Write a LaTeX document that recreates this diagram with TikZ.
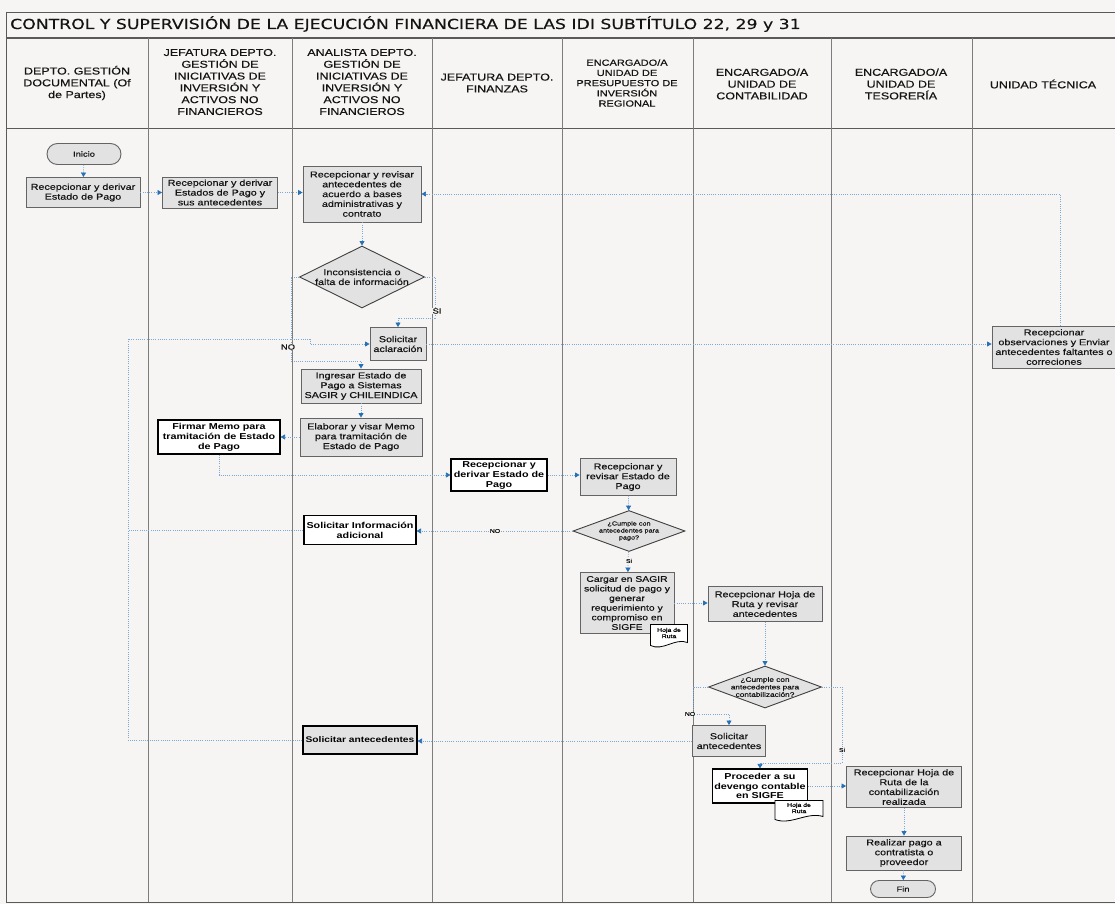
\documentclass[tikz,border=0pt]{standalone}
\usepackage{fontspec}
\setmainfont{Liberation Sans}[FakeStretch=1.25]
\newfontfamily\medium{Liberation Sans}[FakeStretch=1.25, FakeBold=0.45]
\newfontfamily\titlefont{DejaVu Sans}[FakeStretch=1.25, FakeBold=0.3]
\usetikzlibrary{arrows.meta,shapes.geometric,shapes.misc}

\definecolor{paper}{RGB}{246,245,243}
\definecolor{frameline}{RGB}{90,90,90}
\definecolor{laneline}{RGB}{125,125,125}
\definecolor{boxfill}{RGB}{226,226,226}
\definecolor{boxline}{RGB}{100,100,100}
\definecolor{flowline}{RGB}{125,170,212}
\definecolor{flowtip}{RGB}{38,112,182}
\definecolor{ink}{RGB}{20,20,20}

% "Hoja de Ruta" document symbol: name, centre x, centre y, width, height
\newcommand\hojaruta[5]{%
  \path[fill=white,draw=black,line width=0.8pt]
    (#2-#4/2,#3-#5/2) -- (#2+#4/2,#3-#5/2) -- (#2+#4/2,#3+#5/2-3)
    .. controls (#2+#4/6,#3+#5/2-8) and (#2-#4/6,#3+#5/2+6) .. (#2-#4/2,#3+#5/2) -- cycle;
  \node[doctext] (#1) at (#2,#3-2) {Hoja de\\Ruta};
}

\tikzset{
  lanehead/.style={align=center, text=ink, inner sep=0pt, font=\medium\fontsize{10}{11.8}\selectfont},
  proc/.style={rectangle, draw=boxline, fill=boxfill, line width=0.9pt, inner sep=1pt,
    align=center, text=ink, font=\medium\fontsize{8.6}{9.8}\selectfont},
  task/.style={rectangle, draw=black, fill=white, line width=1.1pt, inner sep=1pt,
    align=center, text=black, font=\bfseries\fontsize{8.6}{9.8}\selectfont},
  terminal/.style={rounded rectangle, draw=boxline, fill=boxfill, line width=0.9pt,
    inner sep=1pt, text=ink, font=\medium\fontsize{7.5}{9}\selectfont},
  decision/.style={diamond, draw=black!75, fill=boxfill, line width=0.9pt, inner sep=0pt},
  dectext/.style={align=center, text=ink, inner sep=0pt},
  doctext/.style={align=center, text=black, inner sep=0pt, font=\medium\fontsize{5.5}{6.2}\selectfont},
  flow/.style={draw=flowline, line width=0.7pt, dash pattern=on 1pt off 1.2pt,
    -{Triangle[length=4.5pt,width=5pt,color=flowtip]}},
  flowplain/.style={draw=flowline, line width=0.7pt, dash pattern=on 1pt off 1.2pt},
  tag/.style={fill=paper, inner sep=0.6pt, text=ink, font=\medium\fontsize{7.5}{8}\selectfont},
  smalltag/.style={fill=paper, inner sep=0.5pt, text=ink, font=\medium\fontsize{5.5}{6}\selectfont},
}

\begin{document}
\begin{tikzpicture}[x=1pt, y=-1pt]
% page
\fill[paper] (0,0) rectangle (1115,904);
\useasboundingbox (0,0) rectangle (1115,904);

% frame, title row and header row
\draw[frameline, line width=0.9pt] (6,12) -- (1115,12);
\draw[frameline, line width=0.9pt] (6,12) -- (6,902) -- (1115,902);
\draw[frameline, line width=1.3pt] (6,38) -- (1115,38);
\draw[frameline, line width=1.0pt] (6,129) -- (1115,129);
\foreach \lx in {148,292,432,562,693,831,972}
  \draw[laneline, line width=0.8pt] (\lx,38) -- (\lx,902);

\node[anchor=base west, inner sep=0pt, text=ink, font=\titlefont\fontsize{13.8}{16}\selectfont]
  (title) at (10,29) {CONTROL Y SUPERVISIÓN DE LA EJECUCIÓN FINANCIERA DE LAS IDI SUBTÍTULO 22, 29 y 31};

% lane headers
\node[lanehead] (h1) at (77,83) {DEPTO. GESTIÓN\\DOCUMENTAL (Of\\de Partes)};
\node[lanehead] (h2) at (220,82) {JEFATURA DEPTO.\\GESTIÓN DE\\INICIATIVAS DE\\INVERSIÓN Y\\ACTIVOS NO\\FINANCIEROS};
\node[lanehead] (h3) at (362,82) {ANALISTA DEPTO.\\GESTIÓN DE\\INICIATIVAS DE\\INVERSIÓN Y\\ACTIVOS NO\\FINANCIEROS};
\node[lanehead] (h4) at (497,83) {JEFATURA DEPTO.\\FINANZAS};
\node[lanehead, font=\medium\fontsize{8.8}{10.2}\selectfont] (h5) at (627,83) {ENCARGADO/A\\UNIDAD DE\\PRESUPUESTO DE\\INVERSIÓN\\REGIONAL};
\node[lanehead] (h6) at (762,84) {ENCARGADO/A\\UNIDAD DE\\CONTABILIDAD};
\node[lanehead] (h7) at (901,84) {ENCARGADO/A\\UNIDAD DE\\TESORERÍA};
\node[lanehead] (h8) at (1043,84) {UNIDAD TÉCNICA};

% process steps
\node[terminal, minimum width=76, minimum height=21] (inicio) at (84,154) {Inicio};
\node[proc, minimum width=114, minimum height=30] (b1) at (83,192.5) {Recepcionar y derivar\\Estado de Pago};
\node[proc, minimum width=115, minimum height=31] (b2) at (220,192.5) {Recepcionar y derivar\\Estados de Pago y\\sus antecedentes};
\node[proc, minimum width=118, minimum height=56] (b3) at (362,194) {Recepcionar y revisar\\antecedentes de\\acuerdo a bases\\administrativas y\\contrato};
\node[decision, minimum width=125, minimum height=62,
  label={[dectext, font=\medium\fontsize{8.6}{9.8}\selectfont]center:{Inconsistencia o\\falta de información}}] (d1) at (362,277) {};
\node[proc, minimum width=56, minimum height=33] (b4) at (398,344) {Solicitar\\aclaración};
\node[proc, minimum width=120, minimum height=34] (b5) at (361,386) {Ingresar Estado de\\Pago a Sistemas\\SAGIR y CHILEINDICA};
\node[proc, minimum width=122, minimum height=38] (b6) at (361,437) {Elaborar y visar Memo\\para tramitación de\\Estado de Pago};
\node[task, minimum width=122, minimum height=34] (b7) at (219,437) {Firmar Memo para\\tramitación de Estado\\de Pago};
\node[task, minimum width=96, minimum height=32] (b8) at (499,475) {Recepcionar y\\derivar Estado de\\Pago};
\node[proc, minimum width=96, minimum height=37] (b9) at (628,477) {Recepcionar y\\revisar Estado de\\Pago};
\node[decision, minimum width=112, minimum height=41,
  label={[dectext, font=\medium\fontsize{5.8}{7}\selectfont]center:{¿Cumple con\\antecedentes para\\pago?}}] (d2) at (629,531) {};
\node[task, minimum width=112, minimum height=29] (b10) at (360,530) {Solicitar Información\\adicional};
\node[proc, minimum width=94, minimum height=61, font=\medium\fontsize{8.3}{9.6}\selectfont] (b11) at (627,603) {Cargar en SAGIR\\solicitud de pago y\\generar\\requerimiento y\\compromiso en\\SIGFE};
\hojaruta{doc1}{669}{635}{37}{21}
\node[proc, minimum width=114, minimum height=35] (b12) at (765,604) {Recepcionar Hoja de\\Ruta y revisar\\antecedentes};
\node[decision, minimum width=113, minimum height=42,
  label={[dectext, font=\medium\fontsize{6.6}{7.5}\selectfont]center:{¿Cumple con\\antecedentes para\\contabilización?}}] (d3) at (765,687) {};
\node[proc, minimum width=73, minimum height=31] (b13) at (729,741) {Solicitar\\antecedentes};
\node[task, minimum width=95, minimum height=34] (b14) at (760,786) {Proceder a su\\devengo contable\\en SIGFE};
\hojaruta{doc2}{799}{810}{48}{19}
\node[proc, minimum width=115, minimum height=41] (b15) at (904,787) {Recepcionar Hoja de\\Ruta de la\\contabilización\\realizada};
\node[proc, minimum width=115, minimum height=34] (b16) at (904,853) {Realizar pago a\\contratista o\\proveedor};
\node[terminal, minimum width=67, minimum height=17] (fin) at (903,889) {Fin};
\node[task, fill=boxfill, minimum width=114, minimum height=28, font=\bfseries\fontsize{8.2}{9.6}\selectfont] (b17) at (360,740) {Solicitar antecedentes};
\node[proc, minimum width=124, minimum height=42] (b18) at (1054,347) {Recepcionar\\observaciones y Enviar\\antecedentes faltantes o\\correciones};

% bend points of the connectors
\coordinate (siTurn) at (435,318);
\coordinate (noTurn) at (291,361);
\coordinate (retA) at (128,339);
\coordinate (retB) at (310,339);
\coordinate (siTurn2) at (842,763);
\coordinate (noTurn2) at (693,714);

% connectors
\draw[flow] (inicio) -- (b1);
\draw[flow] (b1.east) -- (b1.east -| b2.west);
\draw[flow] (b2.east) -- (b2.east -| b3.west);
\draw[flow] (b3) -- (d1);
\draw[flow] (d1.east) -| (siTurn) -| (b4.north);
\draw[flow] (d1.west) -| (noTurn) -| (b5.north);
\draw[flow] (b4.east) -- (b4.east -| b18.west);
\draw[flow] ([xshift=6pt]b18.north) |- (b3.east);
\draw[flow] (b5) -- (b6);
\draw[flow] (b6.west) -- (b6.west -| b7.east);
\draw[flow] (b7.south) |- (b8.west);
\draw[flow] (b8.east) -- (b8.east -| b9.west);
\draw[flow] (b9) -- (d2);
\draw[flow] (d2.west) -- (d2.west -| b10.east);
\draw[flow] (d2) -- (b11);
\draw[flow] (b11.east) -- (b11.east -| b12.west);
\draw[flow] (b12) -- (d3);
\draw[flow] (d3.east) -| (siTurn2) -| (b14.north);
\draw[flow] (d3.west) -| (noTurn2) -| (b13.north);
\draw[flow] (b13.west) -- (b13.west -| b17.east);
\draw[flow] (b14.east) -- (b14.east -| b15.west);
\draw[flow] (b15) -- (b16);
\draw[flow] (b16) -- (fin);
\draw[flow] (b17.west) -| (retA) -- (retB) |- (b4.west);
\draw[flowplain] (b10.west) -- (b10.west -| retA);

% branch labels
\node[tag] (lsi1) at (437,311) {SI};
\node[tag] (lno1) at (288,347) {NO};
\node[smalltag] (lno2) at (495,531) {NO};
\node[smalltag] (lsi2) at (629,561) {Si};
\node[smalltag] (lno3) at (690,714) {NO};
\node[smalltag] (lsi3) at (842,750) {Si};
\end{tikzpicture}
\end{document}
